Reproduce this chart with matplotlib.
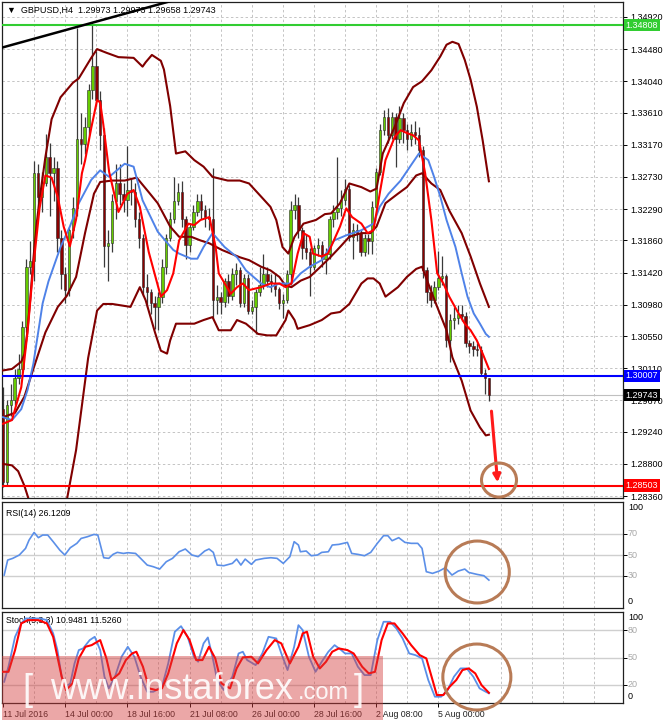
import matplotlib.pyplot as plt
from matplotlib.patches import Ellipse, Rectangle
import matplotlib.transforms as mtransforms

plt.rcParams['font.family'] = ['Liberation Sans', 'DejaVu Sans']

# ---- GBPUSD H4 candles (bar 0 = 11 Jul 2016 08:00) ----
opens = [
    1.2955, 1.2855, 1.2960, 1.2968, 1.2998, 1.3010, 1.3068, 1.3150, 1.3158, 1.3278,
    1.3245, 1.3265, 1.3300, 1.3278, 1.3285, 1.3190, 1.3140, 1.3118, 1.3200, 1.3230,
    1.3325, 1.3318, 1.3342, 1.3392, 1.3425, 1.3378, 1.3330, 1.3178, 1.3182, 1.3240,
    1.3265, 1.3250, 1.3242, 1.3255, 1.3252, 1.3215, 1.3190, 1.3122, 1.3115, 1.3100,
    1.3095, 1.3109, 1.3150, 1.3190, 1.3215, 1.3240, 1.3252, 1.3215, 1.3180, 1.3205,
    1.3225, 1.3240, 1.3228, 1.3218, 1.3215, 1.3105, 1.3108, 1.3102, 1.3130, 1.3110,
    1.3140, 1.3145, 1.3100, 1.3135, 1.3090, 1.3095, 1.3115, 1.3125, 1.3140, 1.3130,
    1.3128, 1.3120, 1.3100, 1.3105, 1.3140, 1.3228, 1.3235, 1.3200, 1.3175, 1.3170,
    1.3150, 1.3175, 1.3180, 1.3160, 1.3168, 1.3215, 1.3225, 1.3230, 1.3242, 1.3256,
    1.3191, 1.3200, 1.3196, 1.3170, 1.3190, 1.3185, 1.3232, 1.3280, 1.3337, 1.3355,
    1.3330, 1.3355, 1.3325, 1.3353, 1.3337, 1.3325, 1.3335, 1.3330, 1.3310, 1.3145,
    1.3115, 1.3105, 1.3122, 1.3135, 1.3137, 1.3049, 1.3077, 1.3080, 1.3085, 1.3082,
    1.3045, 1.3042, 1.3038, 1.3036, 1.3004, 1.29973]
highs = [
    1.2985, 1.2968, 1.2990, 1.3010, 1.3030, 1.3075, 1.3160, 1.3185, 1.3295, 1.3290,
    1.3280, 1.3332, 1.3320, 1.3300, 1.3295, 1.3200, 1.3150, 1.3205, 1.3245, 1.3477,
    1.3360, 1.3355, 1.3400, 1.3485, 1.3445, 1.3390, 1.3340, 1.3200, 1.3250, 1.3290,
    1.3290, 1.3265, 1.3315, 1.3270, 1.3265, 1.3225, 1.3195, 1.3140, 1.3120, 1.3110,
    1.3115, 1.3160, 1.3195, 1.3225, 1.3273, 1.3265, 1.3268, 1.3220, 1.3210, 1.3235,
    1.3250, 1.3250, 1.3235, 1.3230, 1.3285, 1.3125, 1.3115, 1.3135, 1.3140, 1.3148,
    1.3155, 1.3150, 1.3140, 1.3140, 1.3105, 1.3120, 1.3150, 1.3168, 1.3150, 1.3140,
    1.3140, 1.3122, 1.3112, 1.3145, 1.3240, 1.3250, 1.3245, 1.3205, 1.3195, 1.3175,
    1.3180, 1.3190, 1.3185, 1.3175, 1.3220, 1.3235, 1.3300, 1.3255, 1.3270, 1.3262,
    1.3210, 1.3208, 1.3200, 1.3195, 1.3195, 1.3240, 1.3285, 1.3345, 1.3365, 1.3368,
    1.3362, 1.3360, 1.3370, 1.3360, 1.3345, 1.3345, 1.3350, 1.3342, 1.3315, 1.3150,
    1.3125, 1.3130, 1.3172, 1.3165, 1.3140, 1.3085, 1.3095, 1.3098, 1.3098, 1.3088,
    1.3050, 1.3048, 1.3045, 1.3042, 1.3010, 1.29973]
lows = [
    1.2848, 1.2850, 1.2945, 1.2960, 1.2990, 1.3005, 1.3060, 1.3140, 1.3130, 1.3230,
    1.3225, 1.3260, 1.3220, 1.3240, 1.3170, 1.3120, 1.3100, 1.3110, 1.3190, 1.3220,
    1.3290, 1.3305, 1.3330, 1.3380, 1.3370, 1.3310, 1.3150, 1.3130, 1.3170, 1.3215,
    1.3235, 1.3225, 1.3220, 1.3235, 1.3205, 1.3175, 1.3110, 1.3095, 1.3085, 1.3065,
    1.3063, 1.3100, 1.3140, 1.3185, 1.3210, 1.3235, 1.3205, 1.3160, 1.3170, 1.3200,
    1.3220, 1.3215, 1.3205, 1.3200, 1.3080, 1.3085, 1.3085, 1.3095, 1.3100, 1.3105,
    1.3125, 1.3095, 1.3095, 1.3085, 1.3085, 1.3058, 1.3110, 1.3120, 1.3122, 1.3115,
    1.3110, 1.3092, 1.3080, 1.3100, 1.3125, 1.3215, 1.3190, 1.3160, 1.3160, 1.3110,
    1.3145, 1.3165, 1.3150, 1.3140, 1.3160, 1.3205, 1.3215, 1.3220, 1.3235, 1.3185,
    1.3160, 1.3185, 1.3165, 1.3165, 1.3168, 1.3168, 1.3230, 1.3275, 1.3330, 1.3320,
    1.3325, 1.3287, 1.3320, 1.3320, 1.3310, 1.3315, 1.3318, 1.3300, 1.3135, 1.3100,
    1.3095, 1.3100, 1.3118, 1.3125, 1.3040, 1.3020, 1.3065, 1.3072, 1.3075, 1.3040,
    1.3032, 1.3028, 1.3028, 1.3000, 1.2976, 1.29658]
closes = [
    1.2855, 1.2960, 1.2968, 1.2998, 1.3010, 1.3068, 1.3150, 1.3158, 1.3278, 1.3245,
    1.3265, 1.3300, 1.3278, 1.3285, 1.3190, 1.3140, 1.3118, 1.3200, 1.3230, 1.3325,
    1.3318, 1.3342, 1.3392, 1.3425, 1.3378, 1.3330, 1.3178, 1.3182, 1.3240, 1.3265,
    1.3250, 1.3242, 1.3255, 1.3252, 1.3215, 1.3190, 1.3122, 1.3115, 1.3100, 1.3095,
    1.3109, 1.3150, 1.3190, 1.3215, 1.3240, 1.3252, 1.3215, 1.3180, 1.3205, 1.3225,
    1.3240, 1.3228, 1.3218, 1.3215, 1.3105, 1.3108, 1.3102, 1.3130, 1.3110, 1.3140,
    1.3145, 1.3100, 1.3135, 1.3090, 1.3095, 1.3115, 1.3125, 1.3140, 1.3130, 1.3128,
    1.3120, 1.3100, 1.3105, 1.3140, 1.3228, 1.3235, 1.3200, 1.3175, 1.3170, 1.3150,
    1.3175, 1.3180, 1.3160, 1.3168, 1.3215, 1.3225, 1.3230, 1.3242, 1.3256, 1.3191,
    1.3200, 1.3196, 1.3170, 1.3190, 1.3185, 1.3232, 1.3280, 1.3337, 1.3355, 1.3330,
    1.3355, 1.3325, 1.3353, 1.3337, 1.3325, 1.3335, 1.3330, 1.3310, 1.3145, 1.3115,
    1.3105, 1.3122, 1.3135, 1.3137, 1.3049, 1.3077, 1.3080, 1.3085, 1.3082, 1.3045,
    1.3042, 1.3038, 1.3036, 1.3004, 1.29973, 1.29743]

# ---- indicator lines (bar position, value) ----
ub_bar = [0, 2.3, 4.7, 5.5, 6.2, 7.0, 7.8, 8.6, 9.4, 10.2, 10.9, 12.5, 14.8, 18.0, 19.5,
          22.7, 24.2, 26.6, 29.7, 33.6, 35.9, 36.7, 38.3, 40.6, 41.4, 43.0, 44.5, 46.9,
          49.2, 51.6, 53.9, 57.8, 60.9, 63.3, 66.4, 68.8, 70.3, 71.9, 73.4, 75.0, 77.3,
          80.5, 82.8, 84.4, 86.7, 89.1, 92.2, 94.5, 96.1, 97.7, 100.8, 103.1, 105.5,
          107.8, 110.2, 112.5, 114.1, 115.6, 117.2, 118.8, 120.3, 121.9, 123.4, 125.0]
ub_val = [1.3008, 1.3010, 1.3020, 1.3030, 1.3058, 1.3105, 1.3160, 1.3206, 1.3242, 1.3273,
          1.3300, 1.3352, 1.3382, 1.3402, 1.3408, 1.3436, 1.3448, 1.3443, 1.3437, 1.3436,
          1.3424, 1.3430, 1.3440, 1.3432, 1.3420, 1.3370, 1.3305, 1.3308, 1.3296, 1.3287,
          1.3273, 1.3268, 1.3268, 1.3264, 1.3246, 1.3232, 1.3214, 1.3177, 1.3168, 1.3191,
          1.3209, 1.3214, 1.3222, 1.3223, 1.3237, 1.3264, 1.3259, 1.3253, 1.3257, 1.3305,
          1.3342, 1.3374, 1.3396, 1.3404, 1.3419, 1.3438, 1.3454, 1.3458, 1.3455, 1.3433,
          1.3406, 1.3369, 1.3323, 1.3267]
mb_bar = [0, 3.1, 5.5, 7.8, 10.9, 14.1, 16.4, 18.8, 21.1, 23.4, 25.0, 28.1, 31.3, 34.4,
          37.5, 39.8, 43.0, 45.3, 48.4, 50.8, 53.1, 56.3, 58.6, 60.9, 63.3, 66.4, 68.8,
          71.1, 72.7, 74.2, 76.6, 78.9, 81.3, 84.4, 86.7, 89.1, 92.2, 94.5, 96.1, 98.4,
          101.6, 103.9, 106.3, 107.8, 110.2, 112.5, 114.8, 118.0, 120.3, 122.7, 125.0]
mb_val = [1.2944, 1.2950, 1.2972, 1.3010, 1.3060, 1.3095, 1.3110, 1.3136, 1.3196, 1.3250,
          1.3266, 1.3268, 1.3268, 1.3272, 1.3252, 1.3237, 1.3205, 1.3191, 1.3191, 1.3186,
          1.3182, 1.3173, 1.3168, 1.3163, 1.3159, 1.3150, 1.3145, 1.3136, 1.3124, 1.3122,
          1.3131, 1.3136, 1.3148, 1.3164, 1.3177, 1.3191, 1.3196, 1.3196, 1.3205, 1.3237,
          1.3250, 1.3259, 1.3275, 1.3278, 1.3264, 1.3255, 1.3227, 1.3196, 1.3164, 1.3127,
          1.3095]
lb_bar = [0, 2.3, 3.9, 5.5, 7.0, 9.4, 11.7, 14.1, 16.4, 18.8, 20.3, 21.9, 24.2, 25.8,
          28.1, 32.8, 35.2, 36.7, 39.1, 40.6, 42.2, 43.0, 44.5, 49.2, 51.6, 53.9, 55.5,
          58.6, 60.2, 62.5, 65.6, 68.0, 70.3, 72.7, 73.4, 75.0, 75.8, 78.9, 82.0, 84.4,
          86.7, 89.1, 92.2, 93.8, 95.3, 96.9, 98.4, 101.6, 103.9, 106.3, 107.8, 109.4,
          111.7, 114.1, 115.6, 118.0, 120.3, 122.7, 124.2, 125.0]
lb_val = [1.2880, 1.2878, 1.2870, 1.2850, 1.2825, 1.2790, 1.2775, 1.2790, 1.2830, 1.2899,
          1.2960, 1.3025, 1.3090, 1.3099, 1.3099, 1.3095, 1.3122, 1.3104, 1.3060, 1.3035,
          1.3031, 1.3049, 1.3072, 1.3072, 1.3077, 1.3081, 1.3063, 1.3063, 1.3077, 1.3072,
          1.3058, 1.3056, 1.3056, 1.3077, 1.3090, 1.3077, 1.3065, 1.3070, 1.3077, 1.3086,
          1.3088, 1.3099, 1.3127, 1.3134, 1.3134, 1.3127, 1.3109, 1.3122, 1.3136, 1.3147,
          1.3150, 1.3127, 1.3095, 1.3063, 1.3026, 1.2994, 1.2953, 1.2930, 1.2919, 1.2920]
slow_bar = [0, 2.3, 4.7, 6.3, 7.8, 10.2, 11.7, 14.8, 17.2, 19.5, 22.7, 25.0, 27.3, 31.3,
            33.6, 35.9, 39.8, 43.8, 45.3, 48.4, 50.0, 51.6, 53.9, 57.0, 60.2, 62.5, 66.4,
            68.8, 71.1, 74.2, 76.6, 78.9, 82.0, 85.2, 88.3, 92.2, 95.3, 96.9, 99.2, 102.3,
            104.7, 107.0, 109.4, 110.9, 112.5, 114.1, 116.4, 118.0, 119.5, 121.1, 122.7,
            124.2, 125.0]
slow_val = [1.2944, 1.2940, 1.2955, 1.2981, 1.3017, 1.3100, 1.3130, 1.3177, 1.3205, 1.3237,
            1.3269, 1.3282, 1.3273, 1.3291, 1.3287, 1.3241, 1.3198, 1.3173, 1.3168, 1.3161,
            1.3161, 1.3177, 1.3196, 1.3177, 1.3163, 1.3145, 1.3127, 1.3122, 1.3127, 1.3127,
            1.3141, 1.3150, 1.3159, 1.3186, 1.3193, 1.3200, 1.3209, 1.3232, 1.3250, 1.3268,
            1.3287, 1.3305, 1.3296, 1.3273, 1.3246, 1.3214, 1.3177, 1.3141, 1.3109, 1.3086,
            1.3072, 1.3058, 1.3054]
fast_bar = [0, 2.3, 4.7, 6.3, 7.8, 9.4, 10.9, 12.5, 14.1, 15.6, 17.2, 18.8, 20.3, 21.1,
            22.7, 24.2, 25.0, 25.8, 27.3, 29.7, 32.0, 33.6, 35.2, 37.5, 40.6, 42.2, 43.8,
            45.3, 47.7, 49.2, 50.8, 53.1, 54.7, 55.5, 58.6, 60.2, 61.7, 63.3, 66.4, 68.8,
            71.1, 72.7, 74.2, 75.8, 77.3, 78.9, 79.7, 82.0, 83.6, 86.7, 88.3, 89.8, 92.2,
            93.8, 95.3, 96.9, 98.4, 100.8, 102.3, 103.9, 105.5, 107.0, 108.6, 110.2, 111.7,
            113.3, 114.8, 117.2, 118.8, 120.3, 121.9, 123.4, 125.0]
fast_val = [1.2935, 1.2940, 1.2985, 1.3060, 1.3150, 1.3230, 1.3275, 1.3272, 1.3245, 1.3205,
            1.3178, 1.3215, 1.3278, 1.3295, 1.3340, 1.3378, 1.3375, 1.3345, 1.3280, 1.3225,
            1.3250, 1.3255, 1.3232, 1.3170, 1.3109, 1.3118, 1.3141, 1.3186, 1.3209, 1.3207,
            1.3214, 1.3218, 1.3177, 1.3141, 1.3113, 1.3122, 1.3127, 1.3118, 1.3122, 1.3127,
            1.3127, 1.3122, 1.3127, 1.3168, 1.3196, 1.3191, 1.3168, 1.3164, 1.3168, 1.3205,
            1.3230, 1.3218, 1.3209, 1.3196, 1.3200, 1.3250, 1.3296, 1.3328, 1.3337, 1.3333,
            1.3330, 1.3323, 1.3278, 1.3214, 1.3141, 1.3127, 1.3109, 1.3086, 1.3072, 1.3063,
            1.3049, 1.3031, 1.3010]

rsi_bar = [0.3, 1.2, 2.5, 4.2, 5.8, 6.7, 8.0, 9.1, 10.2, 11.5, 12.9, 14.6, 15.9, 17.3, 19.0,
           20.1, 21.7, 23.4, 24.4, 25.9, 27.2, 28.3, 29.4, 31.0, 32.1, 34.1, 35.4, 37.1,
           38.7, 40.3, 42.0, 43.6, 45.3, 46.9, 48.6, 50.2, 51.9, 53.0, 54.1, 55.1, 56.8,
           59.0, 60.1, 61.2, 62.3, 63.9, 65.0, 67.2, 68.9, 70.5, 72.1, 73.8, 74.9, 76.0,
           76.5, 78.0, 79.3, 80.9, 82.0, 83.7, 84.7, 86.4, 88.6, 89.7, 91.3, 93.0, 94.6,
           96.3, 97.9, 99.0, 100.1, 101.8, 103.4, 105.0, 106.7, 107.8, 108.9, 110.5, 112.2,
           113.8, 115.5, 117.1, 118.8, 119.8, 122.0, 123.7, 125.0]
rsi_val = [30.9, 45.2, 46.8, 50.0, 56.3, 64.2, 71.5, 66.5, 69.0, 69.0, 62.7, 54.7, 50.0,
           56.9, 61.1, 65.8, 67.4, 69.6, 69.0, 47.4, 46.8, 50.6, 52.5, 51.5, 52.2, 51.5,
           46.8, 40.4, 38.8, 36.6, 43.6, 46.8, 53.1, 55.7, 50.0, 48.4, 53.8, 55.7, 52.5,
           40.4, 39.8, 42.0, 46.1, 40.4, 46.1, 41.1, 45.2, 46.8, 47.4, 46.8, 42.0, 48.4,
           62.7, 59.5, 53.1, 53.8, 49.3, 50.0, 52.5, 53.1, 59.5, 60.1, 62.0, 51.5, 50.6,
           49.3, 52.5, 61.1, 68.4, 68.4, 63.6, 66.5, 62.0, 61.1, 61.1, 56.3, 34.1, 32.5,
           34.7, 37.9, 30.9, 34.7, 36.6, 33.4, 31.5, 30.3, 26.1]

k_bar = [0.3, 1.4, 3.1, 4.7, 5.8, 7.4, 9.6, 11.3, 12.9, 14.0, 15.1, 16.2, 17.3, 18.4, 19.5,
         20.6, 22.3, 23.6, 25.0, 26.1, 27.2, 28.8, 30.5, 32.1, 33.8, 35.4, 37.1, 38.7,
         40.9, 42.5, 44.2, 45.8, 47.5, 49.1, 50.2, 51.6, 52.7, 53.8, 55.1, 56.8, 59.0,
         60.6, 61.7, 62.8, 65.0, 66.7, 68.3, 70.3, 71.6, 73.2, 74.9, 76.0, 77.1, 78.7,
         80.4, 82.0, 83.7, 85.3, 87.0, 88.0, 89.7, 91.3, 93.0, 94.6, 96.3, 97.9, 99.6,
         101.2, 102.8, 104.5, 106.1, 107.8, 109.4, 111.1, 112.7, 114.4, 116.0, 117.7,
         119.3, 121.0, 122.6, 124.2, 125.0]
k_val = [23.5, 39.9, 72.6, 87.2, 92.6, 92.6, 92.6, 90.8, 76.3, 58.1, 29.0, 18.1, 21.7,
         43.5, 58.1, 59.9, 69.0, 72.6, 58.1, 29.0, 16.3, 29.0, 50.8, 61.7, 50.8, 29.0,
         12.6, 12.6, 18.1, 43.5, 78.1, 84.2, 72.6, 50.8, 45.4, 65.4, 71.9, 52.6, 25.4,
         14.5, 29.0, 54.4, 56.3, 47.2, 41.7, 54.4, 72.6, 70.8, 54.4, 36.3, 61.7, 85.3,
         79.9, 50.8, 34.4, 45.4, 56.3, 63.5, 58.1, 54.4, 54.4, 39.9, 30.8, 30.8, 69.0,
         89.0, 89.0, 81.7, 70.8, 54.4, 52.6, 49.0, 25.4, 7.2, 7.2, 14.5, 29.0, 38.1, 38.1,
         29.0, 16.3, 12.6, 10.9]
d_bar = [0, 1.4, 3.1, 4.7, 6.4, 9.1, 11.3, 12.9, 14.0, 15.1, 16.2, 17.9, 19.5, 21.2, 22.8,
         25.0, 26.6, 27.9, 29.9, 31.6, 33.2, 34.3, 36.0, 37.6, 39.3, 40.9, 42.5, 44.7,
         46.4, 48.0, 49.7, 51.3, 53.0, 54.6, 56.2, 58.4, 60.1, 61.7, 63.9, 65.6, 67.8,
         69.9, 71.6, 73.8, 76.0, 77.1, 78.2, 79.8, 81.5, 83.1, 84.7, 86.4, 88.6, 90.2,
         92.4, 94.1, 95.7, 97.4, 99.0, 100.7, 102.8, 105.0, 107.2, 108.9, 110.5, 111.6,
         113.3, 114.9, 116.6, 118.2, 119.8, 121.5, 123.1, 125.0]
d_val = [34.4, 34.4, 58.1, 87.2, 90.8, 90.8, 87.2, 72.6, 50.8, 29.0, 14.5, 21.7, 49.0,
         61.7, 63.5, 69.0, 49.0, 25.4, 32.6, 47.2, 54.4, 56.3, 39.9, 16.3, 14.5, 16.3,
         32.6, 65.4, 79.9, 69.0, 47.2, 47.2, 61.7, 49.0, 21.7, 16.3, 38.1, 50.1, 50.8,
         43.5, 58.1, 69.0, 65.4, 43.5, 61.7, 76.3, 78.1, 50.8, 38.1, 45.4, 56.3, 59.9,
         58.1, 54.4, 39.9, 32.6, 34.4, 69.0, 87.2, 87.2, 76.3, 63.5, 52.6, 49.0, 25.4,
         9.0, 9.0, 18.1, 25.4, 36.3, 38.1, 32.6, 19.9, 11.5]

price_ticks = [1.34920, 1.34480, 1.34040, 1.33610, 1.33170, 1.32730, 1.32290, 1.31860,
               1.31420, 1.30980, 1.30550, 1.30110, 1.29670, 1.29240, 1.28800, 1.28360]
levels = [(1.34808, '#32cd32'), (1.30007, '#0000ff'), (1.28503, '#ff0000')]
last_price = 1.29743
time_ticks = [0, 16, 32, 48, 64, 80, 96, 112]
time_labels = ['11 Jul 2016', '14 Jul 00:00', '18 Jul 16:00', '21 Jul 08:00',
               '26 Jul 00:00', '28 Jul 16:00', '2 Aug 08:00', '5 Aug 00:00']
trend_bar = [-0.3, 44]
trend_val = [1.3450, 1.3515]

# ---- layout (pixel boxes of the terminal window) ----
W, H = 665, 723
fig = plt.figure(figsize=(W / 100, H / 100), dpi=100)


def box(x0, y0, x1, y1):
    return [x0 / W, 1 - y1 / H, (x1 - x0) / W, (y1 - y0) / H]


ax = fig.add_axes(box(2, 2, 623, 498))
ax_rsi = fig.add_axes(box(2, 502.5, 623, 607.5))
ax_st = fig.add_axes(box(2, 611.7, 623, 703.3))

grid = dict(color='#c4c4c4', lw=0.7, ls=(0, (2.5, 2.5)), zorder=0)
for a in (ax, ax_rsi, ax_st):
    a.set_xlim(-0.26, 159.5)
    for g in range(8, 160, 8):
        a.axvline(g, **grid)
    for s in a.spines.values():
        s.set_color('#202020')
        s.set_linewidth(0.9)
    a.yaxis.tick_right()
    a.tick_params(axis='both', labelsize=6.5, length=3, width=0.7, pad=2, colors='black')
ax.tick_params(axis='x', bottom=False, labelbottom=False)
ax_rsi.tick_params(axis='x', bottom=False, labelbottom=False)

# ---- main price panel ----
ax.set_ylim(1.28333, 1.35125)
ax.set_yticks(price_ticks)
ax.set_yticklabels(['%.5f' % t for t in price_ticks])
for t in price_ticks:
    ax.axhline(t, **grid)

n = len(closes)
bars = list(range(n))
ax.vlines(bars, lows, highs, color='#3a3a3a', lw=0.9, zorder=2)
body_low = [min(o, c) for o, c in zip(opens, closes)]
body_h = [max(abs(c - o), 0.00008) for o, c in zip(opens, closes)]
body_col = ['#66cc00' if c >= o else '#8b0000' for o, c in zip(opens, closes)]
ax.bar(bars, body_h, bottom=body_low, width=0.62, color=body_col,
       edgecolor='#2a2a2a', linewidth=0.4, zorder=3)

band = '#800000'
ax.plot(ub_bar, ub_val, color=band, lw=1.5, zorder=4)
ax.plot(mb_bar, mb_val, color=band, lw=1.5, zorder=4)
ax.plot(lb_bar, lb_val, color=band, lw=1.5, zorder=4)
ax.plot(slow_bar, slow_val, color='#4f82e8', lw=1.4, zorder=5)
ax.plot(fast_bar, fast_val, color='#ff0000', lw=1.5, zorder=6)
ax.plot(trend_bar, trend_val, color='black', lw=1.8, zorder=6)

ax.axhline(last_price, color='#c0c0c0', lw=0.8, zorder=1)
for price, col in levels:
    ax.axhline(price, color=col, lw=1.5, zorder=5)
    ax.text(1.004, price, '%.5f' % price, transform=ax.get_yaxis_transform(),
            fontsize=6.5, color='white', va='center', ha='left', zorder=10, clip_on=False,
            bbox=dict(boxstyle='square,pad=0.18', fc=col, ec='none'))
ax.text(1.004, last_price, '%.5f' % last_price, transform=ax.get_yaxis_transform(),
        fontsize=6.5, color='white', va='center', ha='left', zorder=10, clip_on=False,
        bbox=dict(boxstyle='square,pad=0.18', fc='black', ec='none'))

ax.annotate('', xy=(127.3, 1.2851), xytext=(125.6, 1.2956),
            arrowprops=dict(arrowstyle='-|>', color='#ff1a1a', lw=2.2, mutation_scale=11),
            zorder=8)
circ = '#b87b56'
ax.add_patch(Ellipse((127.6, 1.28579), 9.0, 0.00466, fill=False, ec=circ, lw=2.2,
                     zorder=9, clip_on=False))

fig.text(7 / W, 1 - 10 / H, '\u25bc  GBPUSD,H4  1.29973 1.29973 1.29658 1.29743',
         fontsize=6.5, va='center', ha='left', color='black')

# ---- RSI panel ----
ax_rsi.set_ylim(0, 100)
ax_rsi.set_yticks([70, 50, 30])
ax_rsi.set_yticklabels([])
for lv in (70, 50, 30):
    ax_rsi.axhline(lv, color='#cfcfcf', lw=1.0, zorder=1)
ax_rsi.plot(rsi_bar, rsi_val, color='#5b8fe8', lw=1.2, zorder=4)
for v, s, c in [(94.8, '100', 'black'), (70, '70', '#a8a8a8'), (50, '50', '#a8a8a8'),
                (30, '30', '#a8a8a8'), (5.5, '0', 'black')]:
    ax_rsi.text(1.008, v, s, transform=ax_rsi.get_yaxis_transform(), fontsize=6.5,
                color=c, va='center', ha='left', clip_on=False)
ax_rsi.text(0.007, 0.9, 'RSI(14) 26.1209', transform=ax_rsi.transAxes, fontsize=6.3,
            va='center', ha='left')
ax_rsi.add_patch(Ellipse((122.0, 33.8), 16.5, 59, fill=False, ec=circ, lw=2.2,
                         zorder=9, clip_on=False))

# ---- Stochastic panel ----
ax_st.set_ylim(0, 100)
ax_st.set_yticks([80, 50, 20])
ax_st.set_yticklabels([])
for lv in (80, 50, 20):
    ax_st.axhline(lv, color='#cfcfcf', lw=1.0, zorder=1)
ax_st.plot(k_bar, k_val, color='#5b8fe8', lw=1.3, zorder=4)
ax_st.plot(d_bar, d_val, color='#ff0000', lw=1.5, zorder=5)
for v, s, c in [(94.1, '100', 'black'), (80, '80', '#a8a8a8'), (50, '50', '#a8a8a8'),
                (20, '20', '#a8a8a8'), (6.9, '0', 'black')]:
    ax_st.text(1.008, v, s, transform=ax_st.get_yaxis_transform(), fontsize=6.5,
               color=c, va='center', ha='left', clip_on=False)
ax_st.text(0.007, 0.9, 'Stoch(5,3,3) 10.9481 11.5260', transform=ax_st.transAxes,
           fontsize=6.3, va='center', ha='left')
ax_st.set_xticks(time_ticks)
ax_st.set_xticklabels(time_labels, ha='left', fontsize=6.3, color='#202020')
ax_st.add_patch(Ellipse((121.9, 28.7), 17.5, 72, fill=False, ec=circ, lw=2.2,
                        zorder=9, clip_on=False))

# ---- watermark ----
px = mtransforms.Affine2D().scale(1 / W, -1 / H).translate(0, 1) + fig.transFigure
fig.patches.append(Rectangle((2, 656), 381, 64, transform=px, fc='#d33c3c', ec='none',
                             alpha=0.45, zorder=20))
wm = dict(transform=px, color='white', alpha=0.9, va='baseline', zorder=21)
fig.text(22, 700, '[', fontsize=26, fontweight='light', **wm)
fig.text(50, 699, 'www.instaforex', fontsize=26, **wm)
fig.text(298, 699, '.com', fontsize=17, **wm)
fig.text(354, 700, ']', fontsize=26, fontweight='light', **wm)

fig.savefig('out.png', dpi=100)
plt.close(fig)
